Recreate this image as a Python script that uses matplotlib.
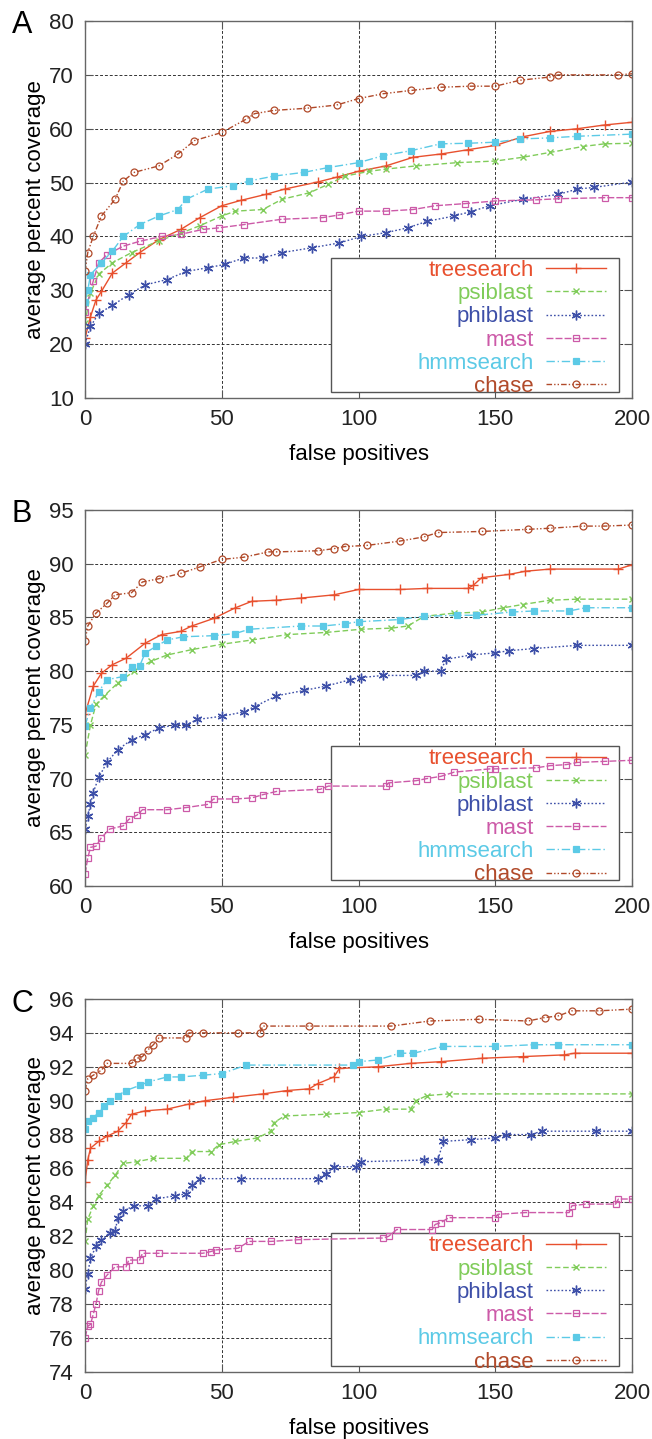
import matplotlib
matplotlib.use('Agg')
import matplotlib.pyplot as plt
from matplotlib.patches import Rectangle

plt.rcParams['font.family'] = ['Liberation Sans', 'DejaVu Sans']

# series names and styles (gnuplot look)
names = ['treesearch', 'psiblast', 'phiblast', 'mast', 'hmmsearch', 'chase']
colors = ['#e8502e', '#80cc5a', '#3d4fa8', '#cc5aa8', '#5ccae6', '#b14a2a']

# ---- panel A ----
a_tree_x = [0, 2, 4, 6, 10, 15, 20, 27, 35, 42, 50, 57, 66, 73, 85, 92, 100, 110, 120, 130, 140, 150, 160, 170, 180, 190, 200]
a_tree_y = [21.1, 25.1, 28.2, 29.8, 33.2, 35.1, 37.0, 39.4, 41.3, 43.5, 45.7, 46.7, 47.8, 48.8, 50.1, 51.0, 52.1, 53.1, 54.7, 55.3, 56.1, 56.9, 58.5, 59.5, 60.0, 60.7, 61.2]
a_psi_x = [0, 2, 5, 10, 17, 27, 35, 42, 50, 55, 65, 72, 82, 89, 95, 104, 110, 121, 136, 150, 160, 170, 182, 190, 200]
a_psi_y = [23.9, 29.5, 33.0, 35.1, 37.0, 39.2, 40.6, 42.0, 43.8, 44.7, 45.0, 46.9, 48.1, 49.7, 51.2, 52.1, 52.5, 53.1, 53.7, 54.0, 54.7, 55.6, 56.7, 57.2, 57.3]
a_phi_x = [0, 2, 5, 10, 16, 22, 30, 37, 45, 51, 58, 65, 72, 83, 93, 101, 110, 118, 125, 135, 141, 148, 160, 173, 180, 186, 200]
a_phi_y = [20.1, 23.3, 25.7, 27.2, 29.2, 31.0, 32.0, 33.5, 34.2, 34.8, 36.0, 36.0, 37.0, 37.9, 38.8, 40.0, 40.7, 41.6, 42.8, 43.8, 44.6, 45.7, 46.9, 47.8, 48.8, 49.1, 50.1]
a_mast_x = [0, 3, 5, 8, 14, 20, 28, 35, 43, 49, 58, 72, 87, 93, 100, 110, 120, 128, 139, 150, 165, 173, 190, 200]
a_mast_y = [26.0, 31.7, 35.1, 36.6, 38.2, 39.1, 40.0, 40.4, 41.3, 41.6, 42.2, 43.2, 43.5, 44.0, 44.7, 44.7, 45.0, 45.7, 46.1, 46.6, 46.8, 47.0, 47.2, 47.2]
a_hmm_x = [0, 1, 2, 6, 10, 14, 20, 27, 34, 37, 45, 54, 60, 69, 80, 89, 100, 109, 119, 130, 140, 150, 159, 170, 180, 200]
a_hmm_y = [27.9, 30.0, 32.9, 35.1, 37.3, 40.0, 42.2, 43.8, 45.0, 46.9, 48.8, 49.4, 50.3, 51.2, 51.9, 52.8, 53.7, 55.0, 55.9, 57.2, 57.3, 57.5, 58.1, 58.3, 58.6, 59.0]
a_chase_x = [0, 1, 3, 6, 11, 14, 18, 27, 34, 40, 50, 59, 62, 69, 81, 92, 100, 109, 119, 130, 141, 150, 159, 170, 173, 195, 200]
a_chase_y = [33.5, 37.0, 40.0, 43.8, 46.9, 50.3, 51.9, 53.1, 55.3, 57.8, 59.3, 61.8, 62.8, 63.4, 63.8, 64.4, 65.6, 66.5, 67.1, 67.7, 67.9, 67.9, 69.0, 69.6, 70.0, 70.0, 70.2]

# ---- panel B ----
b_tree_x = [0, 3, 6, 10, 15, 22, 28, 35, 39, 47, 55, 61, 70, 79, 91, 100, 115, 125, 140, 142, 145, 155, 161, 170, 195, 200]
b_tree_y = [76.0, 78.6, 79.8, 80.6, 81.2, 82.6, 83.4, 83.7, 84.2, 84.9, 85.9, 86.5, 86.6, 86.8, 87.1, 87.6, 87.6, 87.7, 87.7, 88.0, 88.7, 89.0, 89.3, 89.5, 89.5, 89.9]
b_psi_x = [0, 2, 4, 7, 12, 18, 24, 30, 39, 50, 61, 74, 88, 101, 112, 118, 124, 135, 145, 153, 160, 170, 180, 200]
b_psi_y = [72.2, 75.0, 76.9, 77.7, 78.9, 80.0, 80.9, 81.5, 82.0, 82.5, 82.9, 83.4, 83.6, 83.9, 84.0, 84.2, 85.1, 85.4, 85.5, 85.9, 86.2, 86.6, 86.7, 86.7]
b_phi_x = [0, 1, 2, 3, 5, 8, 12, 17, 22, 27, 33, 37, 41, 50, 58, 62, 70, 80, 88, 97, 101, 109, 121, 124, 130, 132, 141, 150, 155, 164, 180, 200]
b_phi_y = [65.3, 66.5, 67.6, 68.7, 70.1, 71.5, 72.7, 73.6, 74.1, 74.7, 75.0, 75.0, 75.5, 75.8, 76.2, 76.7, 77.7, 78.2, 78.6, 79.2, 79.4, 79.6, 79.6, 80.0, 80.0, 81.1, 81.5, 81.7, 81.9, 82.1, 82.4, 82.4]
b_mast_x = [0, 1, 2, 4, 6, 9, 14, 16, 19, 21, 30, 37, 45, 47, 55, 61, 65, 70, 86, 89, 110, 111, 121, 125, 130, 135, 148, 150, 165, 170, 176, 180, 190, 200]
b_mast_y = [61.1, 62.6, 63.6, 63.7, 64.5, 65.3, 65.6, 66.2, 66.6, 67.1, 67.1, 67.3, 67.6, 68.1, 68.1, 68.2, 68.5, 68.8, 69.0, 69.3, 69.3, 69.6, 69.8, 70.0, 70.2, 70.6, 70.9, 70.9, 71.0, 71.2, 71.3, 71.5, 71.6, 71.7]
b_hmm_x = [0, 2, 5, 8, 14, 17, 20, 22, 26, 30, 36, 47, 55, 60, 79, 87, 95, 100, 115, 124, 136, 143, 156, 164, 177, 183, 200]
b_hmm_y = [74.9, 76.6, 78.1, 79.2, 79.5, 80.4, 80.5, 81.7, 82.3, 82.9, 83.2, 83.3, 83.5, 83.9, 84.2, 84.2, 84.4, 84.6, 84.8, 85.1, 85.2, 85.2, 85.5, 85.6, 85.6, 85.9, 85.9]
b_chase_x = [0, 1, 4, 8, 11, 17, 21, 27, 35, 42, 50, 58, 67, 70, 85, 91, 95, 103, 115, 124, 129, 145, 162, 170, 182, 190, 200]
b_chase_y = [82.8, 84.2, 85.4, 86.3, 87.1, 87.3, 88.3, 88.6, 89.1, 89.7, 90.4, 90.6, 91.1, 91.1, 91.2, 91.4, 91.6, 91.7, 92.1, 92.5, 92.9, 93.0, 93.2, 93.3, 93.5, 93.5, 93.6]

# ---- panel C ----
c_tree_x = [0, 1, 2, 5, 8, 12, 15, 17, 22, 30, 38, 44, 54, 65, 74, 82, 85, 91, 93, 107, 119, 130, 145, 160, 175, 179, 200]
c_tree_y = [85.2, 86.5, 87.2, 87.6, 87.9, 88.2, 88.7, 89.2, 89.4, 89.5, 89.8, 90.0, 90.2, 90.4, 90.6, 90.7, 91.0, 91.4, 91.9, 92.0, 92.2, 92.3, 92.5, 92.6, 92.7, 92.8, 92.8]
c_psi_x = [0, 1, 3, 5, 8, 11, 14, 19, 25, 37, 39, 46, 49, 55, 63, 68, 69, 73, 88, 100, 110, 119, 121, 125, 133, 200]
c_psi_y = [81.7, 83.0, 83.8, 84.4, 85.0, 85.6, 86.3, 86.4, 86.6, 86.6, 87.0, 87.0, 87.4, 87.6, 87.8, 88.2, 88.7, 89.1, 89.2, 89.3, 89.5, 89.5, 90.0, 90.3, 90.4, 90.4]
c_phi_x = [0, 1, 2, 4, 6, 9, 11, 12, 14, 18, 23, 26, 33, 37, 39, 42, 57, 85, 88, 91, 99, 101, 124, 129, 131, 141, 150, 154, 163, 167, 187, 200]
c_phi_y = [78.9, 79.8, 80.7, 81.4, 81.8, 82.2, 82.3, 83.1, 83.5, 83.8, 83.8, 84.2, 84.4, 84.5, 85.0, 85.4, 85.4, 85.4, 85.7, 86.1, 86.1, 86.4, 86.5, 86.5, 87.6, 87.7, 87.8, 88.0, 88.0, 88.2, 88.2, 88.2]
c_mast_x = [0, 1, 2, 3, 4, 5, 6, 8, 11, 15, 16, 20, 21, 27, 43, 46, 48, 56, 60, 68, 78, 109, 111, 114, 127, 128, 130, 133, 150, 151, 161, 177, 178, 183, 194, 195, 200]
c_mast_y = [76.0, 76.7, 76.8, 77.4, 78.0, 78.8, 79.3, 79.7, 80.2, 80.2, 80.6, 80.6, 81.0, 81.0, 81.0, 81.1, 81.2, 81.3, 81.7, 81.7, 81.8, 81.9, 82.0, 82.4, 82.4, 82.7, 82.8, 83.1, 83.1, 83.3, 83.4, 83.4, 83.8, 83.9, 83.9, 84.2, 84.2]
c_hmm_x = [0, 1, 3, 5, 7, 9, 12, 15, 20, 23, 30, 35, 43, 50, 59, 98, 100, 107, 115, 120, 131, 150, 164, 173, 200]
c_hmm_y = [88.3, 88.8, 89.0, 89.3, 89.7, 90.0, 90.3, 90.6, 90.9, 91.1, 91.4, 91.4, 91.5, 91.6, 92.1, 92.1, 92.3, 92.4, 92.8, 92.8, 93.2, 93.2, 93.3, 93.3, 93.3]
c_chase_x = [0, 1, 3, 6, 8, 17, 19, 21, 23, 25, 27, 37, 38, 43, 56, 64, 65, 82, 112, 126, 144, 162, 168, 173, 178, 188, 200]
c_chase_y = [90.6, 91.3, 91.5, 91.8, 92.2, 92.2, 92.5, 92.6, 93.0, 93.3, 93.7, 93.7, 94.0, 94.0, 94.0, 94.0, 94.4, 94.4, 94.4, 94.7, 94.8, 94.7, 94.9, 95.0, 95.3, 95.3, 95.4]

panels = [
    ('A', [(a_tree_x, a_tree_y), (a_psi_x, a_psi_y), (a_phi_x, a_phi_y),
           (a_mast_x, a_mast_y), (a_hmm_x, a_hmm_y), (a_chase_x, a_chase_y)],
     (10, 80), list(range(10, 81, 10))),
    ('B', [(b_tree_x, b_tree_y), (b_psi_x, b_psi_y), (b_phi_x, b_phi_y),
           (b_mast_x, b_mast_y), (b_hmm_x, b_hmm_y), (b_chase_x, b_chase_y)],
     (60, 95), list(range(60, 96, 5))),
    ('C', [(c_tree_x, c_tree_y), (c_psi_x, c_psi_y), (c_phi_x, c_phi_y),
           (c_mast_x, c_mast_y), (c_hmm_x, c_hmm_y), (c_chase_x, c_chase_y)],
     (74, 96), list(range(74, 97, 2))),
]

styles = [
    dict(ls='-', marker='+', ms=7, mew=1.0),
    dict(ls=(0, (4, 2)), marker='x', ms=5, mew=1.0),
    dict(ls=(0, (1.2, 1.5)), marker=(6, 2, 0), ms=7, mew=1.0),
    dict(ls=(0, (5, 1.5)), marker='s', ms=5, mew=0.9, mfc='none'),
    dict(ls=(0, (6, 2, 1, 2)), marker='s', ms=4.5, mew=0.9),
    dict(ls=(0, (4, 1.5, 1, 1.5, 1, 1.5)), marker='o', ms=5, mew=0.9, mfc='none'),
]

W, H = 652, 1439
fig = plt.figure(figsize=(W / 100, H / 100), dpi=100)
boxes = [[0.1304, 0.7234, 0.839, 0.262],
         [0.1304, 0.3843, 0.839, 0.2613],
         [0.1304, 0.0466, 0.839, 0.2592]]
letter_y = [25, 514, 1004]

for i, (letter, series, ylim, yticks) in enumerate(panels):
    ax = fig.add_axes(boxes[i])
    for (xs, ys), name, col, st in zip(series, names, colors, styles):
        ax.plot(xs, ys, color=col, lw=1.0, label=name, zorder=2, **st)
    ax.set_xlim(0, 200)
    ax.set_ylim(*ylim)
    ax.set_xticks([0, 50, 100, 150, 200])
    ax.set_yticks(yticks)
    ax.set_axisbelow(True)
    ax.grid(True, color='#333333', lw=0.7, ls=(0, (3, 2)))
    ax.tick_params(direction='in', length=6, top=True, right=True,
                   labelsize=16, pad=8, color='#555555', labelcolor='#222222')
    for sp in ax.spines.values():
        sp.set_color('#666666')
        sp.set_linewidth(1.0)
    ax.set_xlabel('false positives', fontsize=16, labelpad=10)
    ax.set_ylabel('average percent coverage', fontsize=16, labelpad=2)

    ax.add_patch(Rectangle((0.45, 0.016), 0.526, 0.356, transform=ax.transAxes,
                           fc='white', ec='#555555', lw=1.0, zorder=1))
    ax.legend(loc='upper right', bbox_to_anchor=(0.952, 0.366), frameon=False,
              markerfirst=False, labelcolor='linecolor', handlelength=2.7,
              handletextpad=0.55, labelspacing=0.1, borderpad=0,
              borderaxespad=0, fontsize=16, numpoints=1)

    fig.text(22 / W, 1 - letter_y[i] / H, letter, fontsize=22,
             ha='center', va='center')

fig.savefig('out.png', dpi=100)
